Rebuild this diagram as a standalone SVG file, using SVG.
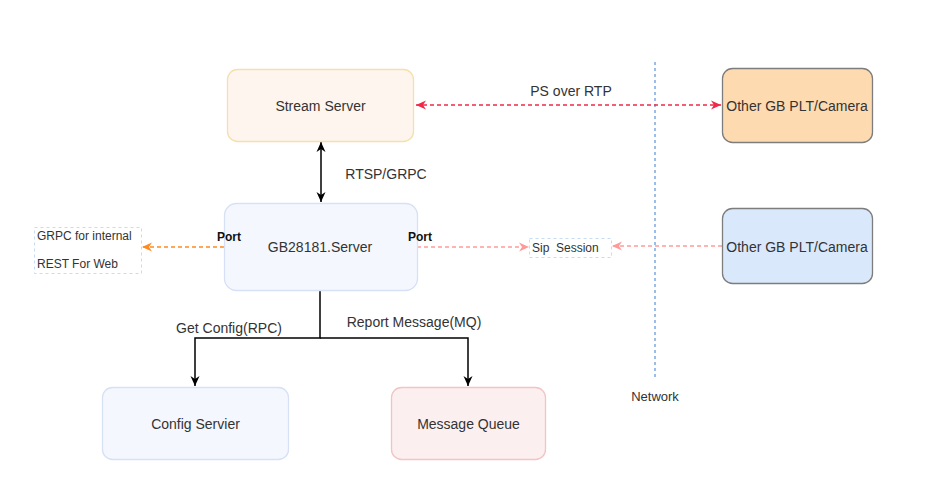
<svg xmlns="http://www.w3.org/2000/svg" width="925" height="488" viewBox="0 0 925 488">
<style>
text{font-family:"Liberation Sans",Arial,sans-serif;fill:#333;}
.t14{font-size:14px;text-anchor:middle;}
.t12{font-size:12px;}
.port{font-size:12px;font-weight:bold;fill:#111;}
.node{stroke-width:1.3;}
</style>
<defs>
<marker id="aBlack" markerUnits="userSpaceOnUse" markerWidth="12" markerHeight="12" refX="10" refY="5" orient="auto-start-reverse"><path d="M0,0.5 L10,5 L0,9.5 L3,5 Z" fill="#000"/></marker>
<marker id="aRed" markerUnits="userSpaceOnUse" markerWidth="12" markerHeight="12" refX="10" refY="5" orient="auto-start-reverse"><path d="M0,0.5 L10,5 L0,9.5 L3,5 Z" fill="#f0284a"/></marker>
<marker id="aOrange" markerUnits="userSpaceOnUse" markerWidth="12" markerHeight="12" refX="10" refY="5" orient="auto-start-reverse"><path d="M0,0.5 L10,5 L0,9.5 L3,5 Z" fill="#ff8a1f"/></marker>
<marker id="aPink" markerUnits="userSpaceOnUse" markerWidth="12" markerHeight="12" refX="10" refY="5" orient="auto-start-reverse"><path d="M0,0.5 L10,5 L0,9.5 L3,5 Z" fill="#ff9a9a"/></marker>
</defs>
<rect width="925" height="488" fill="#fff"/>

<g id="network">
<line x1="655" y1="62" x2="655" y2="380" stroke="#7ea6e0" stroke-width="1.5" stroke-dasharray="3 3"/>
<text x="655" y="401" font-size="13" text-anchor="middle">Network</text>
</g>

<g id="connectors" fill="none">
<line x1="321" y1="142" x2="321" y2="202" stroke="#000" stroke-width="1.5" marker-start="url(#aBlack)" marker-end="url(#aBlack)"/>
<line x1="416" y1="105" x2="721" y2="105" stroke="#f0284a" stroke-width="1.5" stroke-dasharray="4 3" marker-start="url(#aRed)" marker-end="url(#aRed)"/>
<line x1="224" y1="247" x2="142" y2="247" stroke="#ff8a1f" stroke-width="1.5" stroke-dasharray="4 3" marker-end="url(#aOrange)"/>
<line x1="417" y1="247" x2="529" y2="247" stroke="#ff9a9a" stroke-width="1.5" stroke-dasharray="4 3" marker-end="url(#aPink)"/>
<line x1="722" y1="246" x2="612" y2="246" stroke="#ff9a9a" stroke-width="1.5" stroke-dasharray="4 3" marker-end="url(#aPink)"/>
<polyline points="320,290 320,338 195,338 195,386" stroke="#000" stroke-width="1.5" marker-end="url(#aBlack)"/>
<polyline points="320,338 468,338 468,386" stroke="#000" stroke-width="1.5" marker-end="url(#aBlack)"/>
<text class="t14" x="571" y="96">PS over RTP</text>
<text class="t14" x="386" y="179">RTSP/GRPC</text>
<text class="t14" x="229" y="333">Get Config(RPC)</text>
<text class="t14" x="414" y="327">Report Message(MQ)</text>
</g>

<g id="stream-server">
<rect class="node" x="227.5" y="69.5" width="186" height="72" rx="10" fill="#fef6ee" stroke="#f6dfae"/>
<text class="t14" x="320.5" y="111">Stream Server</text>
</g>

<g id="other-gb-top">
<rect class="node" x="722.5" y="68.5" width="150" height="74" rx="10" fill="#fedab1" stroke="#7d7d7d"/>
<text class="t14" x="797" y="111" fill="#222">Other GB PLT/Camera</text>
</g>

<g id="gb28181-server">
<rect class="node" x="224.5" y="203.5" width="193" height="87" rx="12" fill="#f4f7fe" stroke="#d6e1f5"/>
<text class="t14" x="320" y="252">GB28181.Server</text>
<text class="port" x="217" y="241">Port</text>
<text class="port" x="408" y="241">Port</text>
</g>

<g id="api-box">
<rect x="34.5" y="227.5" width="107" height="46" fill="#fff" stroke="#c5dcf2" stroke-dasharray="3 3"/>
<text class="t12" x="37" y="240">GRPC for internal</text>
<text class="t12" x="37" y="268">REST For Web</text>
</g>

<g id="sip-session">
<rect x="529.5" y="238.5" width="82" height="19" fill="#fff" stroke="#c5dcf2" stroke-dasharray="3 3"/>
<text class="t12" x="532" y="252" xml:space="preserve" style="white-space:pre">Sip  Session</text>
</g>

<g id="other-gb-bottom">
<rect class="node" x="722.5" y="208.5" width="150" height="75" rx="10" fill="#dae8fc" stroke="#7d7d7d"/>
<text class="t14" x="797" y="252" fill="#222">Other GB PLT/Camera</text>
</g>

<g id="config-server">
<rect class="node" x="102.5" y="387.5" width="186" height="72" rx="10" fill="#f4f7fe" stroke="#d6e1f5"/>
<text class="t14" x="195.5" y="429">Config Servier</text>
</g>

<g id="message-queue">
<rect class="node" x="391.5" y="387.5" width="154" height="72" rx="10" fill="#fcefef" stroke="#f2c4c4"/>
<text class="t14" x="468.5" y="429">Message Queue</text>
</g>
</svg>
